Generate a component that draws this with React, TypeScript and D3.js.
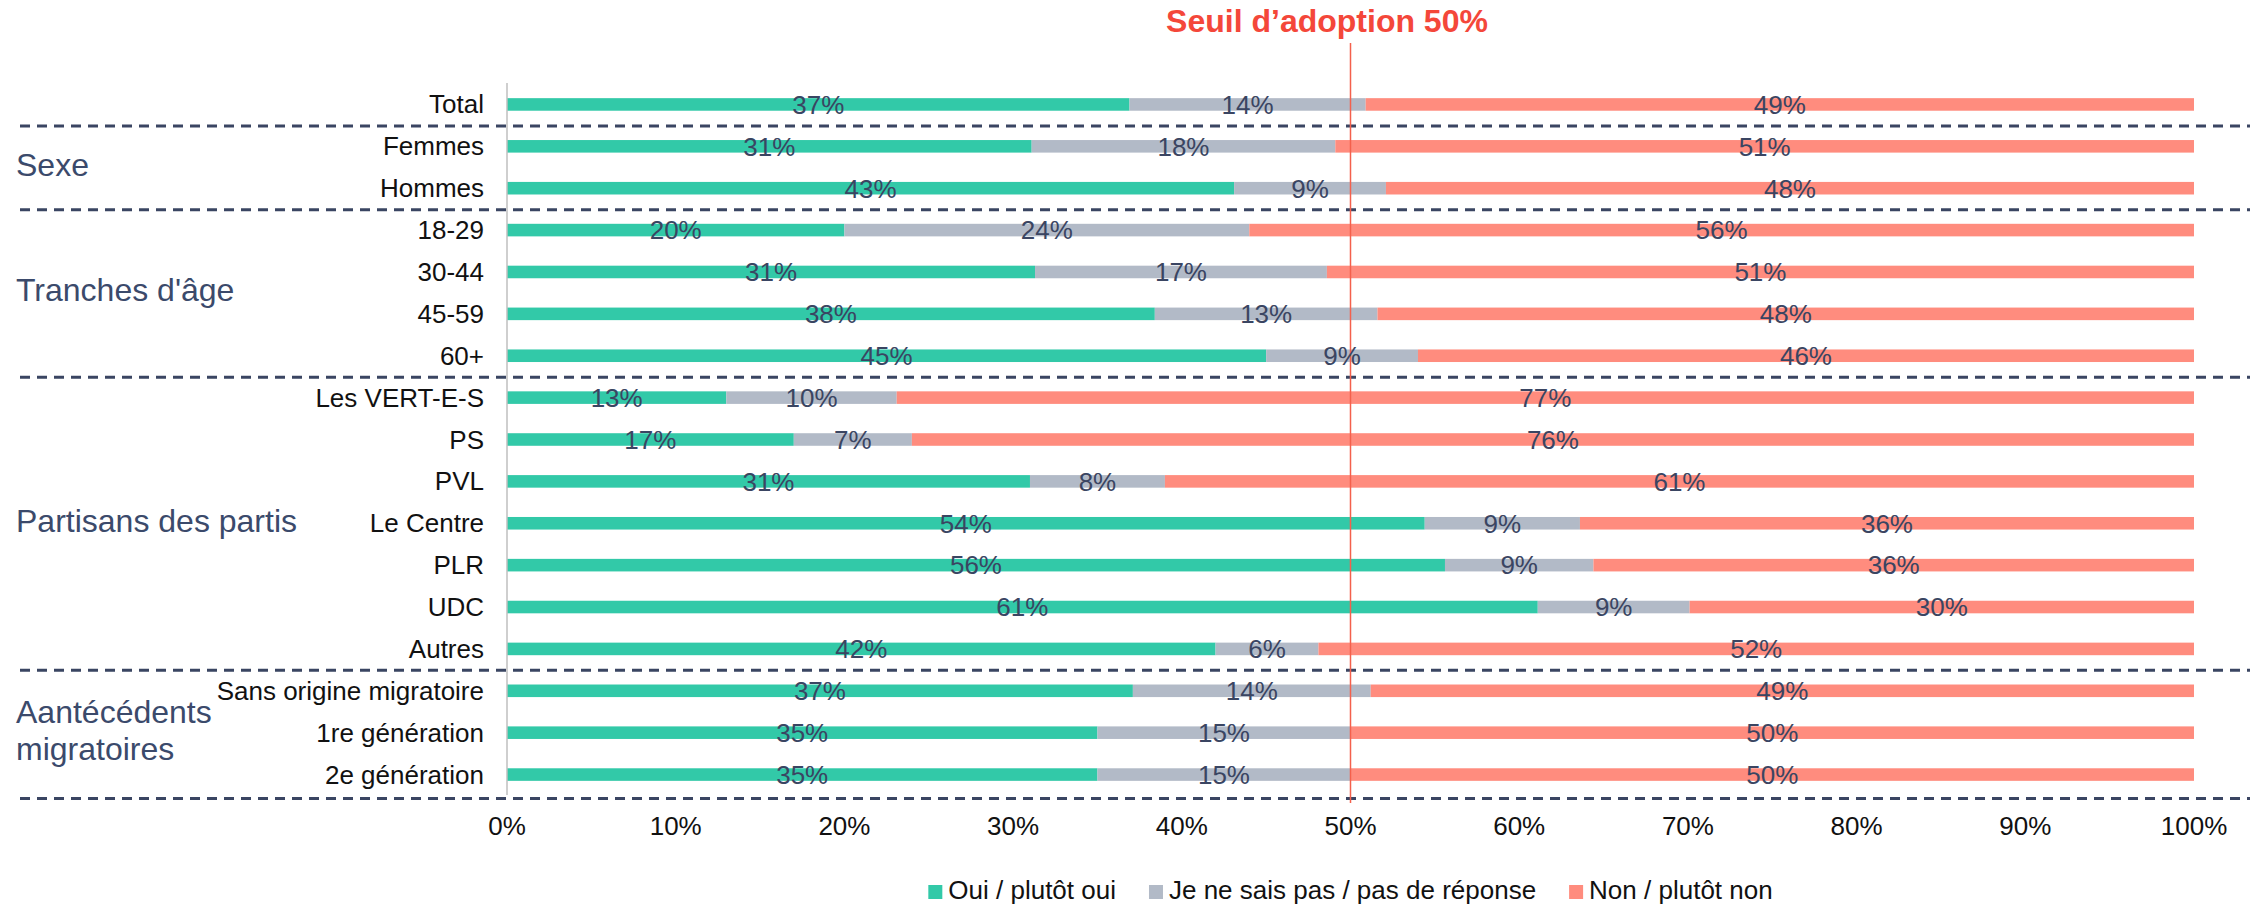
import React from "react";
import * as d3 from "d3";

// --- data ---
const categories = [
  "Total", "Femmes", "Hommes", "18-29", "30-44", "45-59", "60+",
  "Les VERT-E-S", "PS", "PVL", "Le Centre", "PLR", "UDC", "Autres",
  "Sans origine migratoire", "1re génération", "2e génération",
];
const oui = [36.9, 31.1, 43.1, 20.0, 31.3, 38.4, 45.0, 13.0, 17.0, 31.0, 54.4, 55.6, 61.1, 42.0, 37.1, 35.0, 35.0];
const nsp = [14.0, 18.0, 9.0, 24.0, 17.3, 13.2, 9.0, 10.1, 7.0, 8.0, 9.2, 8.8, 9.0, 6.1, 14.1, 15.0, 15.0];
const non = [49.1, 50.9, 47.9, 56.0, 51.4, 48.4, 46.0, 76.9, 76.0, 61.0, 36.4, 35.6, 29.9, 51.9, 48.8, 50.0, 50.0];

const seriesNames = ["Oui / plutôt oui", "Je ne sais pas / pas de réponse", "Non / plutôt non"];
const seriesColors = ["#32c9a8", "#b2bac7", "#ff8c7e"];

const groupLabels = [["Sexe"], ["Tranches d'âge"], ["Partisans des partis"], ["Aantécédents", "migratoires"]];
const groupFirst = ["Femmes", "18-29", "Les VERT-E-S", "Sans origine migratoire"];
const groupLast = ["Hommes", "60+", "Autres", "2e génération"];
const separatorsAfter = ["Total", "Hommes", "60+", "Autres", "2e génération"];

const xTicks = [0, 10, 20, 30, 40, 50, 60, 70, 80, 90, 100];
const threshold = 50;
const thresholdLabel = "Seuil d’adoption 50%";

const W = 2260;
const H = 904;
const FONT = "'Liberation Sans', Arial, sans-serif";
const SLATE = "#3a4562";

export default function App() {
  const x = d3.scaleLinear().domain([0, 100]).range([507, 2194]);
  const y = d3.scaleBand<string>().domain(categories).range([83.5, 795.5])
    .paddingInner(0.7).paddingOuter(0.35);
  const bw = y.bandwidth();
  const step = y.step();
  const cy = (c: string) => (y(c) ?? 0) + bw / 2;

  const rows = categories.map((c, i) => {
    const vals = [oui[i], nsp[i], non[i]];
    let acc = 0;
    const segs = vals.map((v, k) => {
      const s = { x0: acc, x1: acc + v, v, k };
      acc += v;
      return s;
    });
    return { c, segs };
  });

  const sepY = (c: string) => {
    const i = categories.indexOf(c);
    if (i === categories.length - 1) return cy(c) + step / 2 + 3;
    return (cy(c) + cy(categories[i + 1])) / 2 + 0.5;
  };

  // legend layout
  const legendFont = 26;
  const measure = (s: string) => {
    const ctx = document.createElement("canvas").getContext("2d");
    if (!ctx) return s.length * 12;
    ctx.font = `${legendFont}px ${FONT}`;
    return ctx.measureText(s).width;
  };
  const sq = 14;
  const itemGap = 33;
  const widths = seriesNames.map((s) => sq + 6 + measure(s));
  const totalW = d3.sum(widths) + itemGap * (widths.length - 1);
  let lx = (x(0) + x(100)) / 2 - totalW / 2;
  const legendItems = seriesNames.map((s, i) => {
    const item = { s, i, x: lx };
    lx += widths[i] + itemGap;
    return item;
  });

  return (
    <svg width={W} height={H} style={{ position: "absolute", left: 0, top: 0, background: "#fff" }}
      fontFamily={FONT}>
      {/* threshold title */}
      <text x={1327} y={32} textAnchor="middle" fontSize={32} fontWeight="bold" fill="#f4473a">
        {thresholdLabel}
      </text>

      {/* bars */}
      {rows.map((r) => (
        <g key={r.c}>
          {r.segs.map((s) => (
            <rect key={s.k} x={x(s.x0)} y={y(r.c)} width={x(s.x1) - x(s.x0)} height={bw}
              fill={seriesColors[s.k]} />
          ))}
        </g>
      ))}

      {/* y axis line */}
      <line x1={x(0)} x2={x(0)} y1={83} y2={795} stroke="#bfbfbf" strokeWidth={1.5} />

      {/* group separators */}
      {separatorsAfter.map((c) => (
        <line key={c} x1={20} x2={2250} y1={sepY(c)} y2={sepY(c)} stroke={SLATE}
          strokeWidth={3} strokeDasharray="10,7" />
      ))}

      {/* threshold line */}
      <line x1={x(threshold)} x2={x(threshold)} y1={43} y2={803} stroke="#f4604c" strokeWidth={1.5} />

      {/* value labels */}
      {rows.map((r) => r.segs.map((s) => (
        <text key={r.c + s.k} x={(x(s.x0) + x(s.x1)) / 2} y={cy(r.c) + 9.3} textAnchor="middle"
          fontSize={26} fill={SLATE}>
          {`${Math.round(s.v)}%`}
        </text>
      )))}

      {/* category labels */}
      {categories.map((c) => (
        <text key={c} x={484} y={cy(c) + 9} textAnchor="end" fontSize={26} fill="#111">
          {c}
        </text>
      ))}

      {/* group labels */}
      {groupLabels.map((lines, i) => {
        const mid = (cy(groupFirst[i]) + cy(groupLast[i])) / 2;
        const lh = 37;
        const top = mid - ((lines.length - 1) * lh) / 2;
        return (
          <text key={i} x={16} fontSize={32} fill="#3b4a6b">
            {lines.map((l, j) => (
              <tspan key={j} x={16} y={top + j * lh + 8.5}>{l}</tspan>
            ))}
          </text>
        );
      })}

      {/* x ticks */}
      {xTicks.map((t) => (
        <text key={t} x={x(t)} y={835} textAnchor="middle" fontSize={26} fill="#111">
          {`${t}%`}
        </text>
      ))}

      {/* legend */}
      {legendItems.map((it) => (
        <g key={it.s}>
          <rect x={it.x} y={885} width={sq} height={sq} fill={seriesColors[it.i]} />
          <text x={it.x + sq + 6} y={899} fontSize={legendFont} fill="#111">{it.s}</text>
        </g>
      ))}
    </svg>
  );
}
